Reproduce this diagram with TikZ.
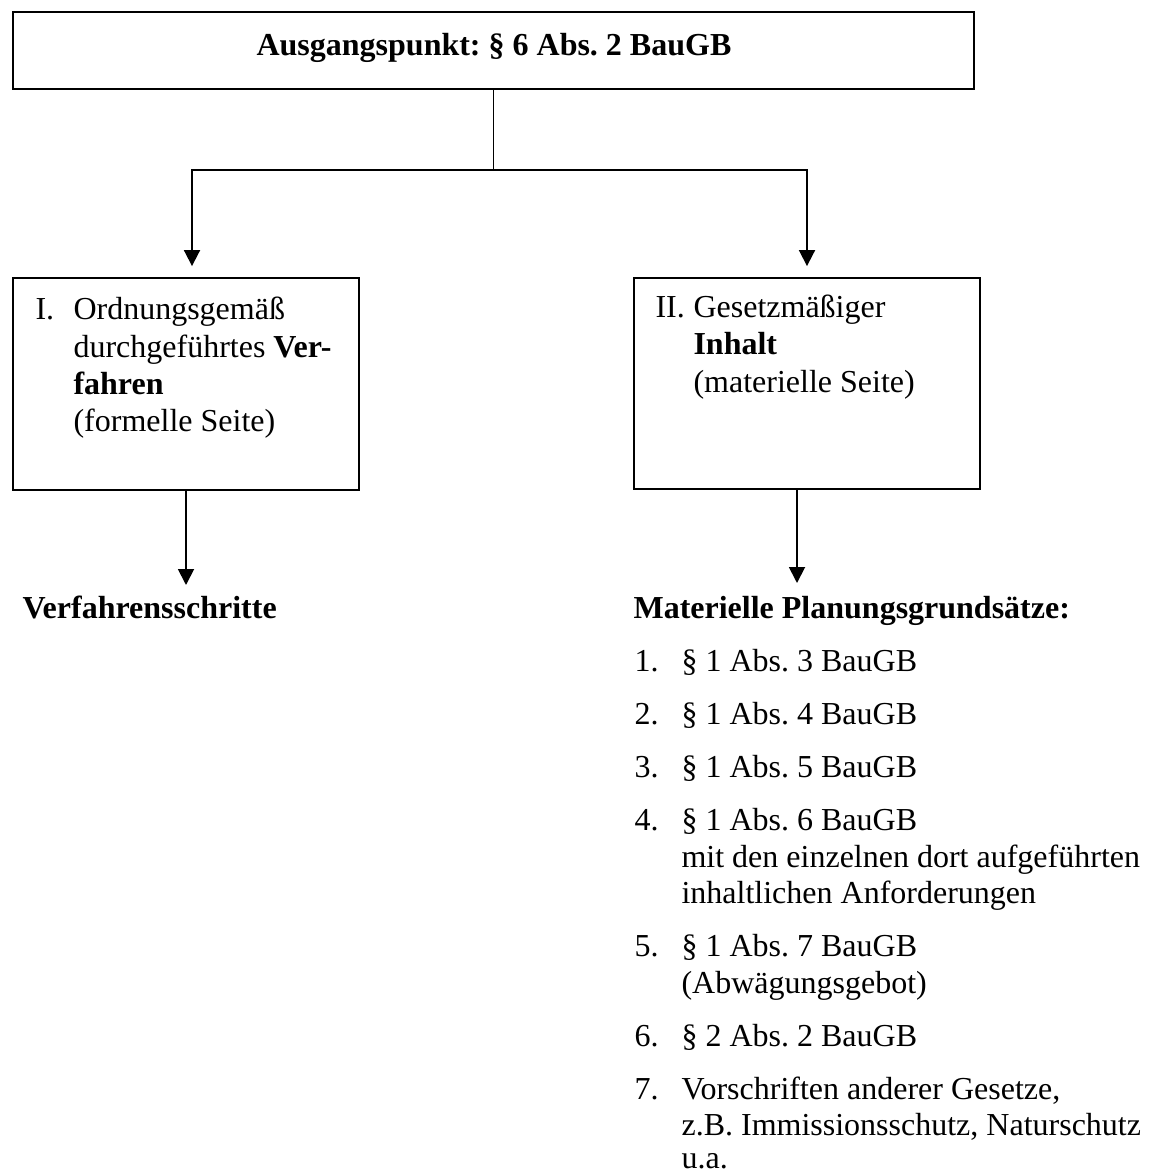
\documentclass[tikz,border=0pt]{standalone}
\usepackage{fontspec}
\setmainfont{Liberation Serif}
\usetikzlibrary{arrows.meta,fit}
\frenchspacing
\begin{document}
% 1 unit = 1/192 in, so 32 units = 12pt
\begin{tikzpicture}[x=0.375pt,y=-0.375pt,
  box/.style={draw, line width=0.75pt, inner sep=0pt},
  topbox/.style={box, line width=1pt},
  txt/.style={anchor=base west, inner sep=0pt, font=\fontsize{12pt}{13.8pt}\selectfont},
  ctxt/.style={txt, anchor=base},
  conn/.style={line width=0.7pt},
  arr/.style={conn, -{Triangle[width=6pt,length=6pt]}}]
\useasboundingbox (0,0) rectangle (1154,1173);

% boxes
\node[topbox, fit={(13,12) (974,89)}] (start) {};
\node[box, fit={(13,278) (359,490)}] (boxI) {};
\node[box, fit={(634,278) (980,489)}] (boxII) {};

% branching connectors
\coordinate (forkL) at (192,170);
\coordinate (forkR) at (807,170);
\coordinate (fork) at (start.south |- forkL);
\coordinate (inL) at ([yshift=4.1pt]forkL |- boxI.north);
\coordinate (inR) at ([yshift=4.1pt]forkR |- boxII.north);
\draw[conn] (start.south) -- (fork);
\draw[arr] (fork) -| (inL);
\draw[arr] (fork) -| (inR);

% outgoing arrows
\coordinate (outL) at (186,585);
\coordinate (outR) at (797,583);
\draw[arr] (boxI.south -| outL) -- (outL);
\draw[arr] (boxII.south -| outR) -- (outR);

% title
\node[ctxt] (title) at (494,56) {\textbf{Ausgangspunkt: § 6 Abs. 2 BauGB}};

% box I
\node[txt] (iNum) at (35,320) {I.};
\node[txt] (i1) at (73,320) {Ordnungsgemäß};
\node[txt] (i2) at (73,357) {durchgeführtes \textbf{Ver-}};
\node[txt] (i3) at (73,394) {\textbf{fahren}};
\node[txt] (i4) at (73,431) {(formelle Seite)};

% box II
\node[txt] (iiNum) at (655,318) {II.};
\node[txt] (ii1) at (693,318) {Gesetzmäßiger};
\node[txt] (ii2) at (693,355) {\textbf{Inhalt}};
\node[txt] (ii3) at (693,392) {(materielle Seite)};

% results
\node[txt] (verf) at (22,618) {\textbf{Verfahrensschritte}};
\node[txt] (mat) at (633,618) {\textbf{Materielle Planungsgrundsätze:}};

% list of principles
\foreach \n/\y/\t in {1/671/{§ 1 Abs. 3 BauGB},
                      2/724/{§ 1 Abs. 4 BauGB},
                      3/777/{§ 1 Abs. 5 BauGB},
                      4/830/{§ 1 Abs. 6 BauGB},
                      5/956/{§ 1 Abs. 7 BauGB},
                      6/1046/{§ 2 Abs. 2 BauGB},
                      7/1099/{Vorschriften anderer Gesetze,}}{
  \node[txt] (num\n) at (634,\y) {\n.};
  \node[txt] (item\n) at (681,\y) {\t};
}
\node[txt] (item4b) at (681,867) {mit den einzelnen dort aufgeführten};
\node[txt] (item4c) at (681,903) {inhaltlichen Anforderungen};
\node[txt] (item5b) at (681,993) {(Abwägungsgebot)};
\node[txt] (item7b) at (681,1135) {z.B. Immissionsschutz, Naturschutz};
\node[txt] (item7c) at (681,1168) {u.a.};
\end{tikzpicture}
\end{document}
